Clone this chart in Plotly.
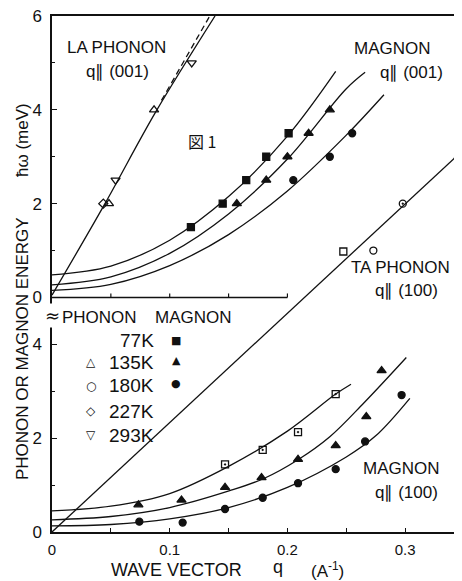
import plotly.graph_objects as go

# ---------------- data ----------------
# Upper panel (its own energy scale, 0..6 meV): LA phonon and magnon q || (001)
la_q_135 = [0.0484, 0.0867]
la_e_135 = [2.0, 4.0]
la_q_227 = [0.0436]
la_e_227 = [2.0]
la_q_293 = [0.054, 0.1187]
la_e_293 = [2.5, 5.0]
la_line_q = [0.0, 0.045, 0.088, 0.1385]
la_line_e = [0.05, 2.0, 3.95, 6.0]
la_dash_q = [0.093, 0.134]
la_dash_e = [4.2, 6.0]

m001_q_77 = [0.118, 0.145, 0.165, 0.182, 0.201]
m001_e_77 = [1.5, 2.0, 2.5, 3.0, 3.5]
m001_q_135 = [0.157, 0.182, 0.200, 0.218, 0.236]
m001_e_135 = [2.0, 2.5, 3.0, 3.5, 4.0]
m001_q_180 = [0.205, 0.236, 0.255]
m001_e_180 = [2.5, 3.0, 3.5]
c001_q_77 = [0.0, 0.05, 0.10, 0.15, 0.20, 0.241]
c001_e_77 = [0.48, 0.67, 1.22, 2.15, 3.44, 4.82]
c001_q_135 = [0.0, 0.05, 0.10, 0.15, 0.20, 0.25, 0.266]
c001_e_135 = [0.27, 0.44, 0.94, 1.78, 2.95, 4.45, 4.80]
c001_q_180 = [0.0, 0.05, 0.10, 0.15, 0.20, 0.25, 0.282]
c001_e_180 = [0.15, 0.28, 0.68, 1.34, 2.27, 3.46, 4.32]

# Lower panel (main energy scale): magnon q || (100) and TA phonon q || (100)
m100_q_77 = [0.147, 0.179, 0.209, 0.241]
m100_e_77 = [1.44, 1.75, 2.13, 2.94]
m100_q_135 = [0.0734, 0.110, 0.147, 0.178, 0.209, 0.241, 0.267, 0.280]
m100_e_135 = [0.58, 0.68, 0.95, 1.16, 1.55, 1.84, 2.46, 3.44]
m100_q_180 = [0.0742, 0.111, 0.147, 0.179, 0.209, 0.241, 0.266, 0.297]
m100_e_180 = [0.22, 0.20, 0.49, 0.73, 1.04, 1.34, 1.93, 2.92]
c100_q_77 = [0.0, 0.05, 0.10, 0.15, 0.20, 0.241, 0.254]
c100_e_77 = [0.45, 0.55, 0.82, 1.40, 2.15, 2.94, 3.15]
c100_q_135 = [0.0, 0.05, 0.10, 0.151, 0.18, 0.209, 0.236, 0.2645, 0.301]
c100_e_135 = [0.26, 0.33, 0.52, 0.88, 1.14, 1.54, 2.03, 2.74, 3.72]
c100_q_180 = [0.0, 0.05, 0.10, 0.15, 0.20, 0.25, 0.275, 0.304]
c100_e_180 = [0.13, 0.16, 0.28, 0.52, 0.95, 1.60, 2.05, 2.85]

ta_q = [0.2475, 0.273, 0.298, 0.345]
ta_e = [5.98, 6.0, 7.0, 8.0]
ta_line_q = [0.0, 0.3483]
ta_line_e = [0.0, 8.12]

x_tickvals = [0, 0.1, 0.2, 0.3]
x_ticktext = ["0", "0.1", "0.2", "0.3"]
x_minor = [0.05, 0.15, 0.25]
y_tickvals = [0, 2, 4, 5, 7, 9, 11]
y_ticktext = ["0", "2", "4", "0", "2", "4", "6"]
y_minor = [1, 3, 6, 8, 10]
legend_temps = ["77K", "135K", "180K", "227K", "293K"]

# ---------------- figure ----------------
INK = "#111111"
LW = 1.3
fig = go.Figure()

def line(q, e, yax="y", dash="solid"):
    fig.add_trace(go.Scatter(x=q, y=e, yaxis=yax, mode="lines", line_shape="spline",
                             line=dict(color=INK, width=LW, dash=dash), hoverinfo="skip"))

def pts(q, e, symbol, size=7, yax="y", lw=1.3):
    fig.add_trace(go.Scatter(x=q, y=e, yaxis=yax, mode="markers",
                             marker=dict(symbol=symbol, size=size, color=INK,
                                         line=dict(color=INK, width=lw))))

# upper panel
line(la_line_q, la_line_e, "y2")
line(la_dash_q, la_dash_e, "y2", dash="6px,4px")
line(c001_q_77, c001_e_77, "y2")
line(c001_q_135, c001_e_135, "y2")
line(c001_q_180, c001_e_180, "y2")
pts(la_q_135, la_e_135, "triangle-up-open", 8, "y2")
pts(la_q_227, la_e_227, "diamond-open", 7, "y2")
pts(la_q_293, la_e_293, "triangle-down-open", 8, "y2")
pts(m001_q_77, m001_e_77, "square", 7, "y2")
pts(m001_q_135, m001_e_135, "triangle-up", 8, "y2")
pts(m001_q_180, m001_e_180, "circle", 7, "y2")

# lower panel
line(ta_line_q, ta_line_e)
line(c100_q_77, c100_e_77)
line(c100_q_135, c100_e_135)
line(c100_q_180, c100_e_180)
pts(m100_q_77, m100_e_77, "square-open-dot", 7)
pts(m100_q_135, m100_e_135, "triangle-up", 8)
pts(m100_q_180, m100_e_180, "circle", 7)
pts(ta_q, ta_e, ["square-open", "circle-open", "circle-open-dot", "triangle-up-open"], 7)

# ---------------- layout ----------------
# plot area in page pixels; the page body adds an 8 px offset
OFF = 8
W, H = 462 - OFF, 581 - OFF
L, R, T, B = 52, 462, 16, 532
def px(x):
    return (x - L) / (R - L)
def py(y):
    return (B - y) / (B - T)

FONT = "Liberation Sans, Arial, sans-serif"
annotations = []
def text(s, x, y, size=17, xanchor="center", angle=0, family=FONT, **kw):
    annotations.append(dict(text=s, x=px(x), y=py(y), xref="paper", yref="paper",
                            showarrow=False, xanchor=xanchor, yanchor="middle",
                            textangle=angle, font=dict(family=family, size=size, color=INK), **kw))

text("LA PHONON", 116, 47)
text("q∥ (001)", 117, 72)
text("MAGNON", 392, 48)
text("q∥ (001)", 411, 73)
text("図 1", 202, 141, size=16, family="Noto Sans CJK JP")
text("TA PHONON", 400, 267)
text("q∥ (100)", 406, 290)
text("MAGNON", 401, 468)
text("q∥ (100)", 406, 492)

# legend block
text("PHONON", 99, 318)
text("MAGNON", 193, 318)
rows_y = [340, 362, 386, 411, 435]
for t, yy in zip(legend_temps, rows_y):
    text(t, 156, yy, size=19, xanchor="right")
GLYPH = "DejaVu Sans"
for g, yy in zip(["△", "○", "◇", "▽"], rows_y[1:]):
    text(g, 91, yy, size=12, family=GLYPH)
for g, yy in zip(["■", "▲", "●"], [340, 360, 384]):
    text(g, 176, yy, size=11, family=GLYPH)

# axis titles
text("WAVE VECTOR", 176, 570, size=18)
text("q", 278, 567, size=18)
text("(A<sup>-1</sup>)", 327, 570, size=17)
text("PHONON OR MAGNON ENERGY", 22, 349, size=17, angle=-90)
text("ħω (meV)", 22, 140, size=17, angle=-90)

# axis-break mark on the energy axis
text("≈", 52, 316, size=18, family=GLYPH, bgcolor="white")

shapes = [dict(type="line", xref="x", yref="y", x0=0, x1=0.2, y0=5, y1=5,
               line=dict(color=INK, width=1.5))]
for tq in [0.05, 0.1, 0.15, 0.2]:
    shapes.append(dict(type="line", xref="x", yref="y", ysizemode="pixel", yanchor=5,
                       x0=tq, x1=tq, y0=0, y1=4, line=dict(color=INK, width=1.2)))

fig.update_layout(
    width=W, height=H,
    margin=dict(l=L - OFF, r=W - (R - OFF), t=T - OFF, b=H - (B - OFF), pad=0),
    paper_bgcolor="white", plot_bgcolor="white",
    showlegend=False,
    font=dict(family=FONT, color=INK),
    xaxis=dict(range=[0, 0.3483], showline=True, linecolor=INK, linewidth=1.6, mirror=True,
               ticks="inside", ticklen=4, tickwidth=1.2, tickcolor=INK,
               tickmode="array", tickvals=x_tickvals, ticktext=x_ticktext,
               minor=dict(tickmode="array", tickvals=x_minor, ticks="inside", ticklen=4,
                          tickcolor=INK, showgrid=False),
               tickfont=dict(size=15), showgrid=False, zeroline=False,
               ticklabelstandoff=3, ticklabeloverflow="allow"),
    yaxis=dict(range=[0, 11], showline=True, linecolor=INK, linewidth=1.5,
               ticks="inside", ticklen=5, tickwidth=1.2, tickcolor=INK,
               tickmode="array", tickvals=y_tickvals, ticktext=y_ticktext,
               minor=dict(tickmode="array", tickvals=y_minor, ticks="inside", ticklen=3,
                          tickcolor=INK, showgrid=False),
               tickfont=dict(size=17), showgrid=False, zeroline=False,
               ticklabelstandoff=5, ticklabeloverflow="allow"),
    yaxis2=dict(range=[-5, 6], overlaying="y", visible=False),
    annotations=annotations,
    shapes=shapes,
)

fig.write_html("out.html")
